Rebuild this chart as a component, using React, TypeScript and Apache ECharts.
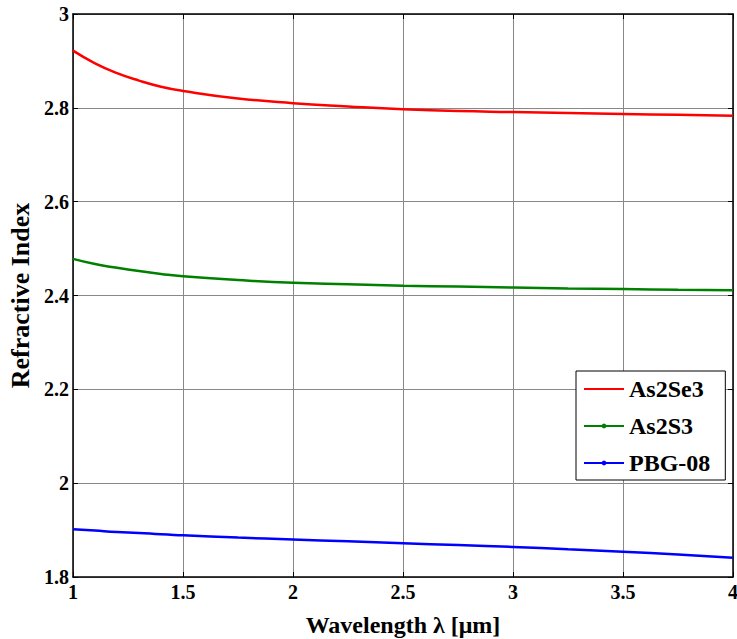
import React, { useEffect, useRef } from "react";
import * as echarts from "echarts";

const wavelengths = [1, 1.1, 1.2, 1.3, 1.4, 1.5, 1.75, 2, 2.25, 2.5, 2.75, 3, 3.25, 3.5, 3.75, 4];
const as2se3 = [2.922, 2.895, 2.874, 2.858, 2.845, 2.836, 2.82, 2.81, 2.803, 2.797, 2.793, 2.791, 2.789, 2.787, 2.785, 2.783];
const as2s3 = [2.478, 2.467, 2.459, 2.452, 2.446, 2.441, 2.433, 2.427, 2.424, 2.421, 2.419, 2.417, 2.415, 2.414, 2.412, 2.411];
const pbg08 = [1.902, 1.899, 1.896, 1.894, 1.891, 1.889, 1.884, 1.88, 1.876, 1.872, 1.868, 1.864, 1.859, 1.854, 1.848, 1.841];
const seriesNames = ["As2Se3", "As2S3", "PBG-08"];
const xTitle = "Wavelength λ [μm]";
const yTitle = "Refractive Index";

const FONT = "Liberation Serif";

export default function App() {
  const ref = useRef<HTMLDivElement>(null);
  useEffect(() => {
    if (!ref.current) return;
    const chart = echarts.init(ref.current, undefined, { renderer: "svg" });
    const pair = (ys: number[]) => wavelengths.map((x, i) => [x, ys[i]]);
    const axisLine = { show: true, lineStyle: { color: "#000", width: 1.5 } };
    const tick = { show: true, inside: true, length: 5, lineStyle: { color: "#000", width: 1 } };
    const labelStyle = { color: "#000", fontFamily: FONT, fontWeight: "bold" as const, fontSize: 20 };
    chart.setOption({
      animation: false,
      backgroundColor: "#fff",
      textStyle: { fontFamily: FONT },
      grid: { left: 73, right: 4, top: 14, bottom: 62, containLabel: false, outerBoundsMode: "none" },
      xAxis: [
        {
          type: "value",
          min: 1,
          max: 4,
          interval: 0.5,
          position: "bottom",
          axisLine,
          axisTick: tick,
          axisLabel: { ...labelStyle, margin: 5 },
          splitLine: { show: true, lineStyle: { color: "#888", width: 1 } },
          name: xTitle,
          nameLocation: "middle",
          nameGap: 36,
          nameTextStyle: { color: "#000", fontFamily: FONT, fontWeight: "bold", fontSize: 24 },
        },
        {
          type: "value",
          min: 1,
          max: 4,
          interval: 0.5,
          position: "top",
          axisLine,
          axisTick: tick,
          axisLabel: { show: false },
          splitLine: { show: false },
        },
      ],
      yAxis: [
        {
          type: "value",
          min: 1.8,
          max: 3,
          interval: 0.2,
          position: "left",
          axisLine,
          axisTick: tick,
          axisLabel: { ...labelStyle, margin: 4 },
          splitLine: { show: true, lineStyle: { color: "#888", width: 1 } },
          name: yTitle,
          nameLocation: "middle",
          nameGap: 34,
          nameTextStyle: { color: "#000", fontFamily: FONT, fontWeight: "bold", fontSize: 26 },
        },
        {
          type: "value",
          min: 1.8,
          max: 3,
          interval: 0.2,
          position: "right",
          axisLine,
          axisTick: tick,
          axisLabel: { show: false },
          splitLine: { show: false },
        },
      ],
      legend: {
        orient: "vertical",
        left: 576,
        top: 371,
        padding: [6, 15, 5, 7],
        itemGap: 13,
        itemWidth: 40,
        itemHeight: 6,
        backgroundColor: "#fff",
        borderColor: "#000",
        borderWidth: 1,
        borderRadius: 0,
        textStyle: { color: "#000", fontFamily: FONT, fontWeight: "bold", fontSize: 24, lineHeight: 24 },
        data: [
          { name: seriesNames[0], itemStyle: { opacity: 0 } },
          { name: seriesNames[1] },
          { name: seriesNames[2] },
        ],
      },
      series: [
        {
          name: seriesNames[0],
          type: "line",
          data: pair(as2se3),
          smooth: true,
          symbol: "none",
          color: "#ff0000",
          lineStyle: { color: "#ff0000", width: 2.5 },
        },
        {
          name: seriesNames[1],
          type: "line",
          data: pair(as2s3),
          smooth: true,
          symbol: "circle",
          symbolSize: 4,
          showSymbol: false,
          color: "#008000",
          lineStyle: { color: "#008000", width: 2.5 },
        },
        {
          name: seriesNames[2],
          type: "line",
          data: pair(pbg08),
          smooth: true,
          symbol: "circle",
          symbolSize: 4,
          showSymbol: false,
          color: "#0000ff",
          lineStyle: { color: "#0000ff", width: 2.5 },
        },
      ],
    });
    return () => chart.dispose();
  }, []);
  return <div ref={ref} style={{ position: "fixed", left: 0, top: 0, width: 737, height: 639 }} />;
}
